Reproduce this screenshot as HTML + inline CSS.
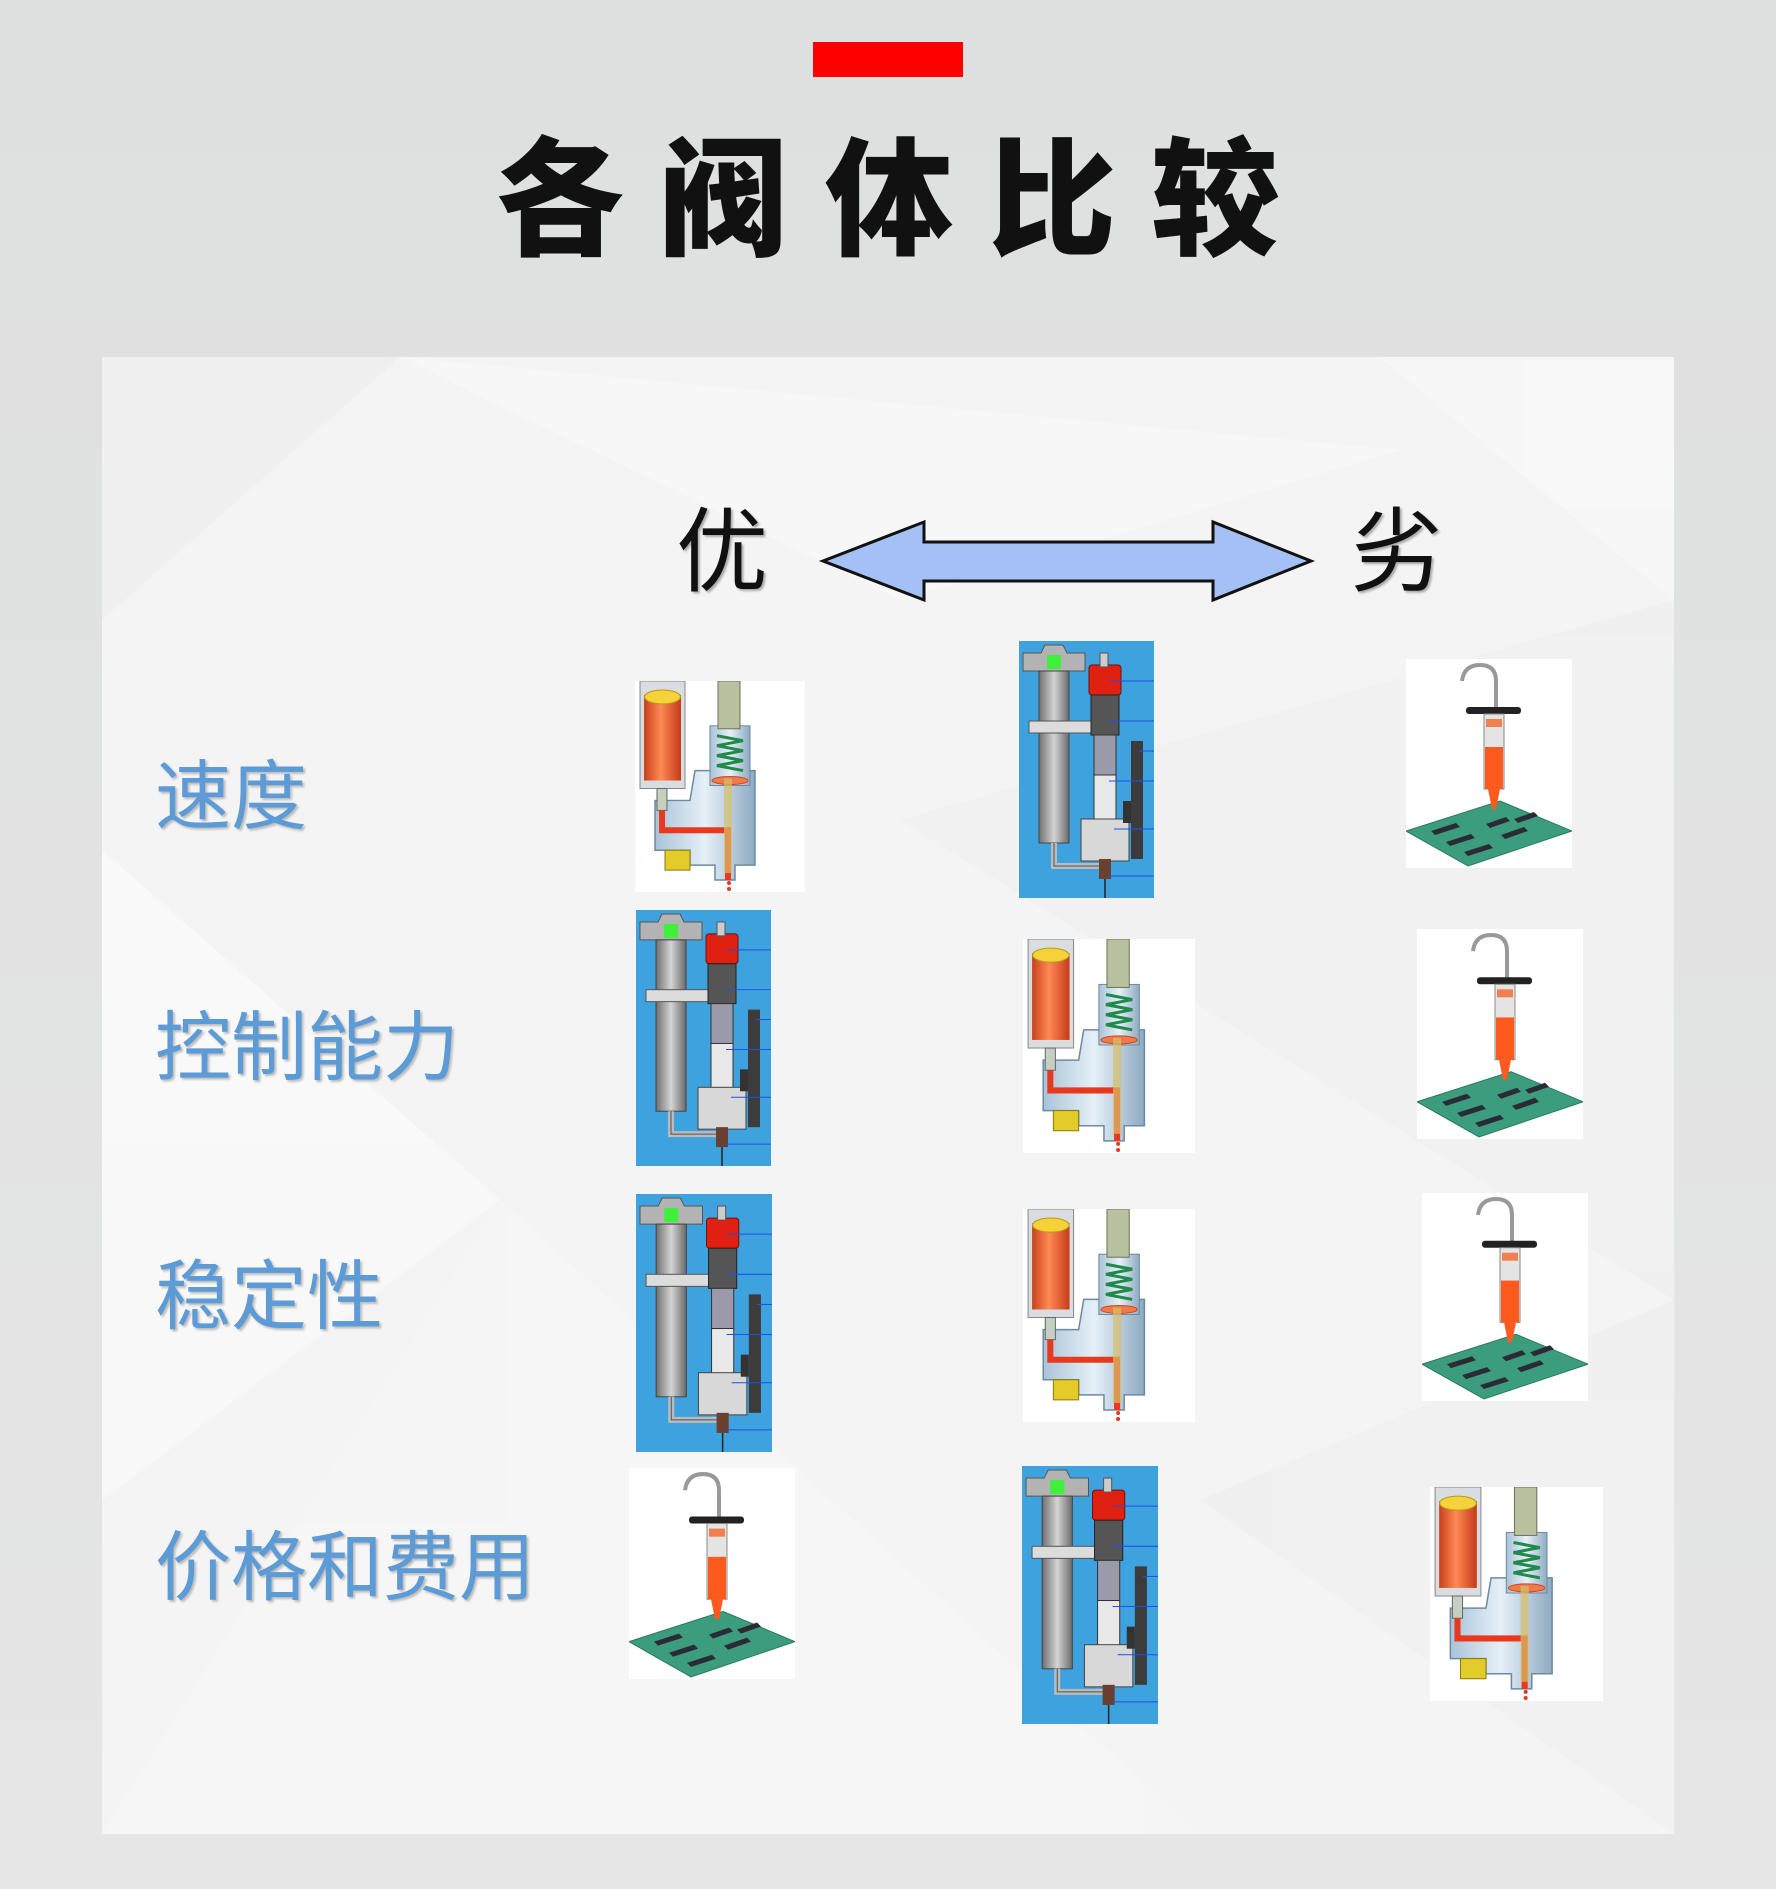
<!DOCTYPE html>
<html><head><meta charset="utf-8"><style>
html,body{margin:0;padding:0;background:#e3e4e4;}
svg{display:block}
</style></head><body>
<svg width="1776" height="1889" viewBox="0 0 1776 1889" xmlns="http://www.w3.org/2000/svg">
<defs>
<linearGradient id="bg" x1="0" y1="0" x2="0" y2="1"><stop offset="0" stop-color="#dedfdf"/><stop offset="1" stop-color="#e6e6e6"/></linearGradient>
<linearGradient id="org" x1="0" y1="0" x2="1" y2="0"><stop offset="0" stop-color="#c8401c"/><stop offset="0.45" stop-color="#ff8a55"/><stop offset="1" stop-color="#c63a18"/></linearGradient>
<linearGradient id="gry" x1="0" y1="0" x2="1" y2="0"><stop offset="0" stop-color="#6f6f6f"/><stop offset="0.5" stop-color="#d4d4d4"/><stop offset="1" stop-color="#6a6a6a"/></linearGradient>
<linearGradient id="lb" x1="0" y1="0" x2="1" y2="0"><stop offset="0" stop-color="#a9c3d8"/><stop offset="0.5" stop-color="#e6f0f7"/><stop offset="1" stop-color="#8eaac2"/></linearGradient>
<symbol id="A" viewBox="0 0 170 212" preserveAspectRatio="none">
<rect width="170" height="212" fill="#fff"/>
<path d="M60 90 H120 V185 H100 V200 H80 V185 H55 V170 H20 V120 H55 Z" fill="url(#lb)" stroke="#6d8aa3" stroke-width="1.5"/>
<rect x="75" y="45" width="40" height="60" fill="url(#lb)" stroke="#6d8aa3"/>
<rect x="83" y="0" width="22" height="48" fill="#b8c0a0" stroke="#6c735a"/>
<path d="M82 55 L108 60 L82 65 L108 70 L82 75 L108 80 L82 85 L108 90" fill="none" stroke="#1f8a4a" stroke-width="3"/>
<ellipse cx="95" cy="100" rx="18" ry="4" fill="#f07a4a" stroke="#c84a20"/>
<rect x="5" y="0" width="45" height="108" fill="#d9dde2" stroke="#888"/>
<rect x="9" y="14" width="37" height="86" fill="url(#org)"/>
<ellipse cx="27.5" cy="16" rx="18" ry="7" fill="#f5d23a" stroke="#b89a18"/>
<rect x="22" y="108" width="10" height="22" fill="#c6d0c0" stroke="#666"/>
<path d="M27 130 V150 H93 V200" fill="none" stroke="#e8391e" stroke-width="6"/>
<rect x="89" y="98" width="8" height="95" fill="#d7c06a" opacity="0.7"/>
<path d="M30 170 H55 V190 H30 Z" fill="#e3cc2a" stroke="#8a7a10"/>
<circle cx="94" cy="203" r="2" fill="#e8391e"/><circle cx="94" cy="209" r="2" fill="#e8391e"/>
</symbol>
<symbol id="B" viewBox="0 0 135 257" preserveAspectRatio="none">
<rect width="135" height="257" fill="#3ea2de"/>
<path d="M4 12 L22 12 L26 4 H44 L48 12 H66 V30 H4 Z" fill="#b3b3b3" stroke="#555"/>
<rect x="28" y="14" width="14" height="14" fill="#3ef03a"/>
<rect x="20" y="30" width="30" height="172" fill="url(#gry)" stroke="#444"/>
<rect x="10" y="80" width="65" height="12" fill="#dcdcdc" stroke="#555"/>
<rect x="70" y="24" width="32" height="30" rx="3" fill="#e02010" stroke="#701008"/>
<rect x="81" y="12" width="8" height="14" fill="#ccc" stroke="#555"/>
<rect x="72" y="54" width="28" height="40" fill="#555" stroke="#222"/>
<rect x="75" y="94" width="22" height="40" fill="#9a9aaa" stroke="#333"/>
<rect x="75" y="134" width="22" height="45" fill="#e8e8e8" stroke="#333"/>
<rect x="62" y="178" width="48" height="42" fill="#d8d8d8" stroke="#444"/>
<rect x="112" y="100" width="12" height="118" fill="#3c3c3c"/>
<rect x="104" y="160" width="8" height="22" fill="#333"/>
<path d="M35 202 V225 H80" fill="none" stroke="#bbb" stroke-width="6"/>
<path d="M35 202 V225 H80" fill="none" stroke="#555" stroke-width="1"/>
<rect x="80" y="218" width="12" height="20" fill="#6a4030"/>
<line x1="86" y1="238" x2="86" y2="257" stroke="#222" stroke-width="1.5"/>
<g stroke="#1f4fe8" stroke-width="1"><line x1="90" y1="40" x2="135" y2="40"/><line x1="90" y1="80" x2="135" y2="80"/><line x1="120" y1="110" x2="135" y2="110"/><line x1="90" y1="140" x2="135" y2="140"/><line x1="95" y1="188" x2="135" y2="188"/><line x1="90" y1="235" x2="135" y2="235"/></g>
</symbol>
<symbol id="C" viewBox="0 0 166 209" preserveAspectRatio="none">
<rect width="166" height="209" fill="#fff"/>
<path d="M0 172 L94 142 L166 172 L62 207 Z" fill="#3c9c7e" stroke="#2b7a60"/>
<g fill="#2b2b35"><path d="M25 172 L50 164 L54 168 L29 176 Z"/><path d="M40 183 L65 175 L69 179 L44 187 Z"/><path d="M58 193 L83 185 L87 189 L62 197 Z"/><path d="M80 165 L100 158 L104 162 L84 169 Z"/><path d="M95 176 L118 168 L122 172 L99 180 Z"/><path d="M108 160 L128 153 L132 157 L112 164 Z"/></g>
<path d="M90 50 V22 Q90 6 74 6 Q58 6 56 22" fill="none" stroke="#999" stroke-width="4"/>
<rect x="60" y="48" width="55" height="7" rx="3" fill="#222"/>
<rect x="78" y="55" width="20" height="75" fill="#e4e4e4" stroke="#888"/>
<rect x="79" y="88" width="18" height="42" fill="#ff5a1e"/>
<path d="M82 130 H94 L90 150 H86 Z" fill="#ff5a1e"/>
<rect x="80" y="60" width="16" height="8" fill="#f08050"/>
</symbol>
</defs>
<rect width="1776" height="1889" fill="url(#bg)"/>
<rect x="813" y="42" width="150" height="35" fill="#ff0000"/>
<g font-family="'Liberation Sans','Noto Sans CJK SC',sans-serif" font-weight="900" font-size="128" fill="#111" text-anchor="middle">
<text x="560" y="245">各</text><text x="723" y="245">阀</text><text x="889" y="245">体</text><text x="1052" y="245">比</text><text x="1215" y="245">较</text>
</g>
<rect x="102" y="357" width="1572" height="1477" fill="#f4f4f5"/>
<g opacity="0.6">
<polygon points="102,357 400,357 102,620" fill="#ececee"/>
<polygon points="1380,357 1674,357 1674,600" fill="#fafafa"/>
<polygon points="400,357 1400,450 900,600" fill="#f9f9fa"/>
<polygon points="102,850 500,1200 102,1500" fill="#fbfbfb"/>
<polygon points="900,820 1674,600 1674,1300" fill="#efeff0"/>
<polygon points="500,1200 1200,1834 102,1834" fill="#f7f7f8"/>
<polygon points="1200,1500 1674,1300 1674,1834" fill="#eeeeef"/>
</g>
<g font-family="'Liberation Sans','Noto Sans CJK SC',sans-serif" font-size="92" fill="#111" text-anchor="middle" style="text-shadow:2px 2px 2px #aaa">
<text x="722" y="584">优</text><text x="1397" y="584">劣</text>
</g>
<polygon points="823,561 924,522 924,542 1213,542 1213,522 1311,561 1213,600 1213,581 924,581 924,600" fill="#a4c0f5" stroke="#111" stroke-width="3" stroke-linejoin="miter"/>
<g font-family="'Liberation Sans','Noto Sans CJK SC',sans-serif" font-size="76" fill="#5c9bd6" style="text-shadow:2px 2px 2px #bbb">
<text x="155" y="823">速度</text>
<text x="155" y="1074">控制能力</text>
<text x="155" y="1323">稳定性</text>
<text x="155" y="1594">价格和费用</text>
</g>
<use href="#A" x="635" y="681" width="170" height="211"/>
<use href="#B" x="1019" y="641" width="135" height="257"/>
<use href="#C" x="1406" y="659" width="166" height="209"/>
<use href="#B" x="636" y="910" width="135" height="256"/>
<use href="#A" x="1023" y="939" width="172" height="214"/>
<use href="#C" x="1417" y="929" width="166" height="210"/>
<use href="#B" x="636" y="1194" width="136" height="258"/>
<use href="#A" x="1023" y="1209" width="172" height="213"/>
<use href="#C" x="1422" y="1193" width="166" height="208"/>
<use href="#C" x="629" y="1468" width="166" height="211"/>
<use href="#B" x="1022" y="1466" width="136" height="258"/>
<use href="#A" x="1430" y="1487" width="173" height="214"/>
</svg>
</body></html>
